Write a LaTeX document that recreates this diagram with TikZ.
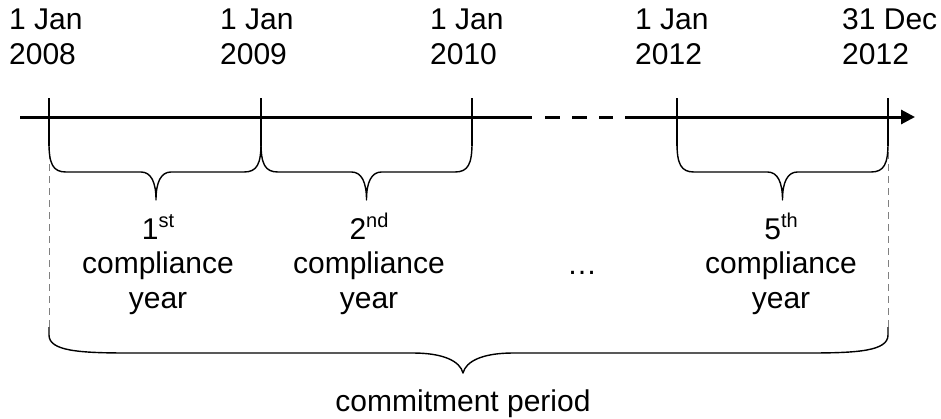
\documentclass[tikz,border=0pt]{standalone}
\usepackage{fontspec}
\setmainfont{Liberation Sans}
\usetikzlibrary{arrows.meta}
\newcommand{\sups}[1]{\raisebox{12pt}{\fontsize{20}{20}\selectfont #1}}
\newcommand{\smallbrace}[3]{%
  \draw[brace] (#1,143) .. controls (#1,164) and (#1+4,172) .. (#1+17,172)
    -- (#3-15,172) .. controls (#3-5,172) and (#3,182) .. (#3,200)
    .. controls (#3,182) and (#3+5,172) .. (#3+15,172)
    -- (#2-17,172) .. controls (#2-4,172) and (#2,164) .. (#2,143);}
\begin{document}
\begin{tikzpicture}[x=1pt,y=-1pt,
  axis/.style={line width=3pt,black},
  tick/.style={line width=1.3pt,black},
  brace/.style={line width=1.4pt,black,line join=round},
  guide/.style={line width=0.9pt,gray,dash pattern=on 7pt off 5pt},
  lbl/.style={font=\fontsize{30}{34.5}\selectfont,inner sep=0pt},
  datelbl/.style={lbl,align=left,anchor=base west},
  yearlbl/.style={lbl,align=center,anchor=base}]
\useasboundingbox (0,0) rectangle (941,418);
% axis
\coordinate (a0) at (20,117);
\coordinate (a1) at (532,117);
\coordinate (d0) at (545,117);
\coordinate (d1) at (613,117);
\coordinate (a2) at (625,117);
\coordinate (a3) at (915,117);
\draw[axis] (a0) -- (a1);
\draw[axis,dash pattern=on 15pt off 12pt] (d0) -- (d1);
\draw[axis,-{Triangle[length=14pt,width=14pt]}] (a2) -- (a3);
% ticks
\foreach \x/\n in {49/t1,261/t2,472/t3,677/t4,888/t5}{
  \coordinate (\n top) at (\x,98);
  \coordinate (\n bot) at (\x,146);
  \draw[tick] (\n top) -- (\n bot);
}
% guides
\coordinate (g1a) at (49,152); \coordinate (g1b) at (49,328);
\coordinate (g2a) at (888,152); \coordinate (g2b) at (888,328);
\draw[guide] (g1a) -- (g1b);
\draw[guide] (g2a) -- (g2b);
% small braces
\smallbrace{49}{261}{156}
\smallbrace{261}{472}{366.5}
\smallbrace{677}{888}{782.5}
% big brace
\draw[brace] (49,327) -- (49,335) .. controls (49,351) and (79,353) .. (129,353)
  -- (413,353) .. controls (443,353) and (460,361) .. (463,373)
  .. controls (466,361) and (483,353) .. (513,353)
  -- (808,353) .. controls (858,353) and (888,351) .. (888,335) -- (888,327);
% date labels (anchor = baseline of the last line)
\node[datelbl] (l1) at (9,64) {1 Jan\\2008};
\node[datelbl] (l2) at (220,64) {1 Jan\\2009};
\node[datelbl] (l3) at (430,64) {1 Jan\\2010};
\node[datelbl] (l4) at (635,64) {1 Jan\\2012};
\node[datelbl] (l5) at (842,64) {31 Dec\\2012};
% year labels
\node[yearlbl] (y1) at (158,308) {1\sups{st}\\compliance\\year};
\node[yearlbl] (y2) at (369,308) {2\sups{nd}\\compliance\\year};
\node[yearlbl] (dots) at (582,274) {\dots};
\node[yearlbl] (y5) at (781,308) {5\sups{th}\\compliance\\year};
\node[lbl,anchor=base] (cp) at (463,411) {commitment period};
\end{tikzpicture}
\end{document}
